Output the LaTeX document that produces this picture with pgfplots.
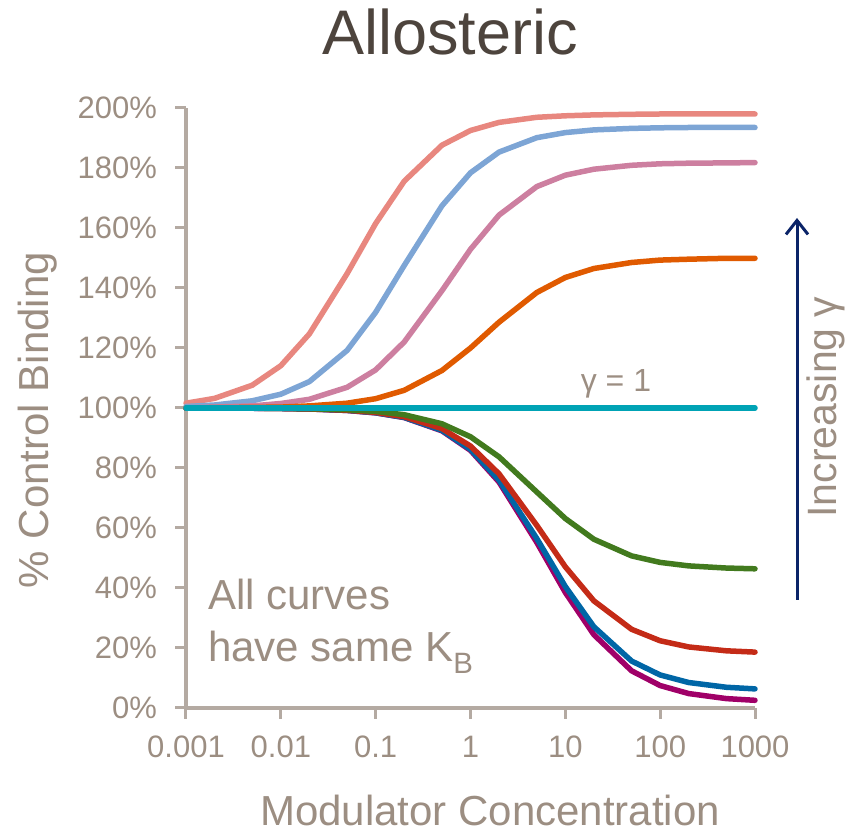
\documentclass[border=0pt]{standalone}
\usepackage{fontspec}
\setmainfont{Liberation Sans}
\usepackage{pgfplots}
\pgfplotsset{compat=1.18}
\usepackage{pgfplotstable}
\usetikzlibrary{arrows.meta}

\definecolor{cSalmon}{HTML}{E8877F}
\definecolor{cLBlue}{HTML}{7DA5D5}
\definecolor{cPink}{HTML}{CD7FA0}
\definecolor{cOrange}{HTML}{E05A00}
\definecolor{cTeal}{HTML}{00A3B5}
\definecolor{cGreen}{HTML}{427A1E}
\definecolor{cRed}{HTML}{C42B17}
\definecolor{cBlue}{HTML}{0066A6}
\definecolor{cMag}{HTML}{A00068}
\definecolor{cNavy}{HTML}{0B2468}
\definecolor{cAxis}{HTML}{B4AAA2}
\definecolor{cText}{HTML}{9C8E82}
\definecolor{cTitle}{HTML}{4D443D}

\pgfplotstableread{
x g100 g30 g10 g3 g1 g03 g01 g003 g001
0.001 101.6 100.5 100.1 100.0 100 99.99 99.98 99.98 99.98
0.002 103.2 101.0 100.3 100.1 100 99.98 99.97 99.97 99.97
0.005 107.6 102.4 100.7 100.2 100 99.94 99.93 99.92 99.92
0.01 114.1 104.6 101.5 100.3 100 99.88 99.85 99.84 99.84
0.02 124.7 108.8 102.9 100.7 100 99.77 99.70 99.68 99.67
0.05 144.8 119.2 106.9 101.6 100 99.42 99.26 99.20 99.18
0.1 161.5 131.9 112.7 103.1 100 98.86 98.53 98.41 98.38
0.2 175.6 147.5 122.0 105.9 100 97.76 97.11 96.87 96.81
0.5 187.6 167.4 139.1 112.5 100 94.74 93.13 92.56 92.39
1 192.5 178.4 152.9 120.0 100 90.41 87.32 86.20 85.88
2 195.2 185.3 164.3 128.6 100 83.72 78.05 75.93 75.31
5 196.9 190.1 173.8 138.5 100 72.00 60.87 56.50 55.20
10 197.4 191.8 177.6 143.5 100 63.16 47.06 40.49 38.51
20 197.7 192.7 179.6 146.5 100 56.25 35.71 27.07 24.43
50 197.9 193.2 180.9 148.5 100 50.70 26.23 15.65 12.39
100 198.0 193.4 181.4 149.3 100 48.53 22.41 11.01 7.48
200 198.0 193.5 181.6 149.6 100 47.37 20.35 8.49 4.81
500 198.0 193.5 181.7 149.9 100 46.65 19.06 6.91 3.13
1000 198.0 193.5 181.8 149.9 100 46.40 18.63 6.37 2.56
}\datatable

\begin{document}
\begin{tikzpicture}
\useasboundingbox (0,0) rectangle (852bp,834bp);
\begin{axis}[
  at={(186bp,126bp)}, anchor=south west,
  scale only axis, width=569bp, height=600bp,
  xmode=log, xmin=0.001, xmax=1000,
  ymin=0, ymax=200,
  axis x line*=bottom, axis y line*=left,
  axis line style={draw=cAxis, line width=3.5bp, -},
  tick style={draw=cAxis, line width=3bp},
  tick align=outside, major tick length=11bp,
  minor tick num=0, minor x tick style={draw=none},
  xtick={0.001,0.01,0.1,1,10,100,1000},
  xticklabels={0.001,0.01,0.1,1,10,100,1000},
  ytick={0,20,...,200},
  yticklabel={\pgfmathprintnumber{\tick}\%},
  /pgf/number format/assume math mode=true,
  ticklabel style={font=\fontsize{31bp}{36bp}\selectfont, text=cText, inner sep=0pt},
  xticklabel style={anchor=north, yshift=-17bp},
  yticklabel style={anchor=east, xshift=-18bp},
  clip=false,
  curve/.style={line width=5.5bp, line join=round, line cap=round, mark=none},
]
\addplot[curve, cMag] table[x=x,y=g001]{\datatable};
\addplot[curve, cBlue] table[x=x,y=g003]{\datatable};
\addplot[curve, cRed] table[x=x,y=g01]{\datatable};
\addplot[curve, cGreen] table[x=x,y=g03]{\datatable};
\addplot[curve, cSalmon] table[x=x,y=g100]{\datatable};
\addplot[curve, cLBlue] table[x=x,y=g30]{\datatable};
\addplot[curve, cPink] table[x=x,y=g10]{\datatable};
\addplot[curve, cOrange] table[x=x,y=g3]{\datatable};
\addplot[curve, cTeal] table[x=x,y=g1]{\datatable};
\end{axis}
\node[anchor=base, text=cTitle, font=\fontsize{63bp}{70bp}\selectfont, inner sep=0pt] at (450bp,779bp) {Allosteric};
\node[anchor=base, rotate=90, text=cText, font=\fontsize{42bp}{48bp}\selectfont, inner sep=0pt] at (48bp,414bp) {\% Control Binding};
\node[anchor=base, text=cText, font=\fontsize{42bp}{48bp}\selectfont, inner sep=0pt] at (490bp,9bp) {Modulator Concentration};
\node[anchor=base, rotate=90, text=cText, font=\fontsize{41bp}{48bp}\selectfont, inner sep=0pt] at (836bp,427bp) {Increasing γ};
\node[anchor=base, text=cText, font=\fontsize{32bp}{36bp}\selectfont, inner sep=0pt] at (616bp,442bp) {γ = 1};
\node[anchor=base west, text=cText, font=\fontsize{42bp}{48bp}\selectfont, inner sep=0pt] at (208bp,224bp) {All curves};
\node[anchor=base west, text=cText, font=\fontsize{42bp}{48bp}\selectfont, inner sep=0pt] at (208bp,172bp) {have same K\textsubscript{B}};
\draw[cNavy, line width=3bp, -{Straight Barb[length=14bp, width=22bp, line width=3bp]}] (797bp,234bp) -- (797bp,616bp);
\end{tikzpicture}
\end{document}
